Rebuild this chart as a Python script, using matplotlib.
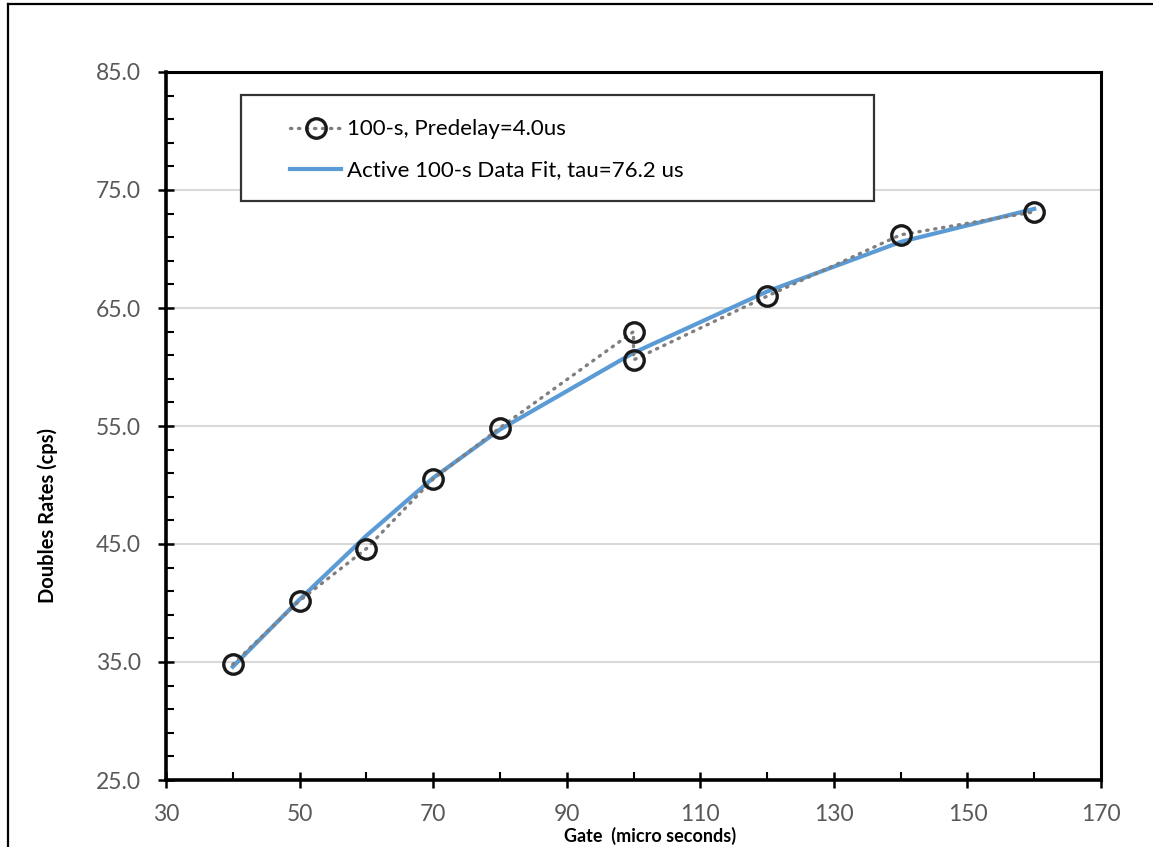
import matplotlib
matplotlib.use("Agg")
import matplotlib.pyplot as plt
from matplotlib.lines import Line2D
from matplotlib.patches import Rectangle
from matplotlib.ticker import MultipleLocator, FormatStrFormatter

# measured doubles rates, 100 s runs, predelay 4.0 us
gate = [40, 50, 60, 70, 80, 100, 100, 120, 140, 160]
doubles = [34.8, 40.2, 44.6, 50.5, 54.85, 63.0, 60.6, 66.0, 71.2, 73.15]

# fitted curve (tau = 76.2 us)
fit_gate = [40, 50, 60, 70, 80, 100, 120, 140, 160]
fit_doubles = [34.6, 40.3, 45.7, 50.6, 54.7, 61.2, 66.4, 70.6, 73.4]

data_label = "100-s, Predelay=4.0us"
fit_label = "Active 100-s Data Fit, tau=76.2 us"

plt.rcParams["font.family"] = ["Lato", "DejaVu Sans"]

W, H = 1153, 847
fig = plt.figure(figsize=(W / 100, H / 100), dpi=100)
ax = fig.add_axes([166 / W, 1 - 780 / H, (1101 - 166) / W, (780 - 72) / H])

ax.plot(gate, doubles, color="#7f7f7f", lw=2.4, ls=(0, (0.4, 2.0)),
        dash_capstyle="round", marker="o", ms=14, mfc="none", mec="#1a1a1a",
        mew=2.4, zorder=3, label=data_label)
ax.plot(fit_gate, fit_doubles, color="#5b9bd5", lw=3.0, zorder=2,
        label=fit_label)

ax.set_xlim(30, 170)
ax.set_ylim(25, 85)
ax.xaxis.set_major_locator(MultipleLocator(20, offset=10))
ax.xaxis.set_minor_locator(MultipleLocator(10))
ax.yaxis.set_major_locator(MultipleLocator(10, offset=5))
ax.yaxis.set_minor_locator(MultipleLocator(2, offset=1))
ax.yaxis.set_major_formatter(FormatStrFormatter("%.1f"))

for ygrid in range(35, 85, 10):
    ax.axhline(ygrid, color="#d9d9d9", lw=1.5, zorder=0)

ax.tick_params(which="major", direction="inout", length=12, width=1.8,
               labelsize=16.5, labelcolor="#595959")
ax.tick_params(which="minor", direction="in", length=6, width=1.5)
ax.tick_params(axis="y", which="major", pad=12)
ax.tick_params(axis="x", which="major", pad=11)
for side in ("left", "bottom"):
    ax.spines[side].set_linewidth(2.6)
for side in ("top", "right"):
    ax.spines[side].set_linewidth(2.2)

ax.set_ylabel("Doubles Rates (cps)", fontsize=14.5, fontweight="bold", va="center")
ax.yaxis.set_label_coords(-0.127, 0.374)
ax.set_xlabel("Gate  (micro seconds)", fontsize=13, fontweight="bold", va="center")
ax.xaxis.set_label_coords(0.518, -0.079)

# legend box drawn separately so its padding matches the original
ax.add_patch(Rectangle((0.0802, 0.8178), 0.6770, 0.1497, transform=ax.transAxes,
                       fill=True, facecolor="white", edgecolor="#333333",
                       lw=1.6, zorder=4))
leg = ax.legend(loc="center left", bbox_to_anchor=(0.1326, 0.8898),
                frameon=False, borderpad=0, borderaxespad=0, numpoints=1,
                handlelength=2.3, handletextpad=0.25, labelspacing=0.95,
                fontsize=16)
leg.set_zorder(5)

# outer frame of the original figure
fig.add_artist(Line2D([8 / W, 8 / W], [0, 1 - 4 / H], color="black", lw=1.6,
                      transform=fig.transFigure))
fig.add_artist(Line2D([8 / W, 1], [1 - 4 / H, 1 - 4 / H], color="black", lw=1.6,
                      transform=fig.transFigure))

fig.savefig("out.png", dpi=100)
